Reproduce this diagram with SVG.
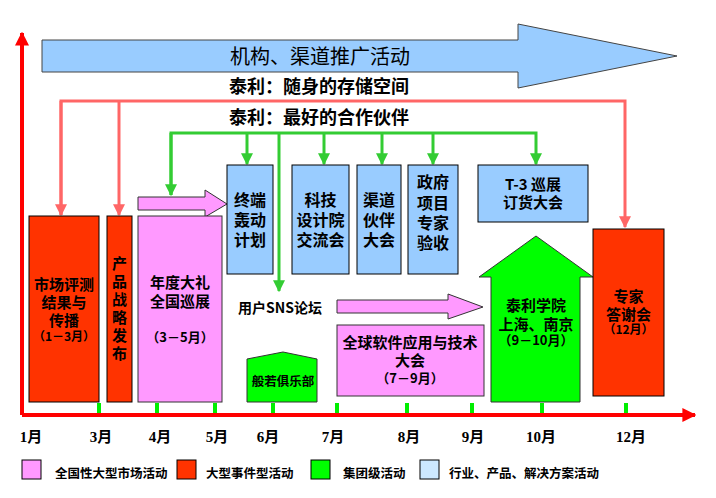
<svg xmlns="http://www.w3.org/2000/svg" width="716" height="498" viewBox="0 0 716 498">
<defs>
<style>
text{font-family:"Noto Sans CJK SC","Liberation Sans",sans-serif;fill:#000;text-anchor:middle}
.b{font-weight:bold}
.m{font-family:"Liberation Serif","Noto Sans CJK SC",serif;font-weight:bold;font-size:15px}
.lg{font-weight:bold;font-size:12.5px;text-anchor:start}
.red{fill:#FF3300;stroke:#000;stroke-width:1}
.pink{fill:#FF99FF;stroke:#333;stroke-width:1}
.grn{fill:#00FF00;stroke:#333;stroke-width:1}
.blue{fill:#99CCFF;stroke:#000;stroke-width:1}
.gl{fill:none;stroke:#33CC33;stroke-width:3}
.rl{fill:none;stroke:#FF6666;stroke-width:3}
.tick{fill:#00EE00}
.s{font-size:12px}
</style>
<marker id="ga" viewBox="0 0 10 10" refX="9" refY="5" markerWidth="4" markerHeight="4" orient="auto" markerUnits="strokeWidth"><path d="M0,0 L10,5 L0,10 z" fill="#33CC33"/></marker>
<marker id="ra" viewBox="0 0 10 10" refX="9" refY="5" markerWidth="4" markerHeight="4" orient="auto" markerUnits="strokeWidth"><path d="M0,0 L10,5 L0,10 z" fill="#FF6666"/></marker>
<marker id="axa" viewBox="0 0 10 10" refX="9" refY="5" markerWidth="3.5" markerHeight="3.5" orient="auto" markerUnits="strokeWidth"><path d="M0,0 L10,5 L0,10 z" fill="#FF0000"/></marker>
</defs>
<rect width="716" height="498" fill="#fff"/>

<g id="connectors">
<path class="rl" d="M61,215 V101 H625 V227" marker-end="url(#ra)"/>
<path class="rl" d="M119,101 V215" marker-end="url(#ra)"/>
<path class="rl" d="M61,101 V215" marker-end="url(#ra)"/>
<path class="gl" d="M171,195 V133 H536 V164" marker-end="url(#ga)"/>
<path class="gl" d="M247,133 V164" marker-end="url(#ga)"/>
<path class="gl" d="M279,133 V291" marker-end="url(#ga)"/>
<path class="gl" d="M324,133 V164" marker-end="url(#ga)"/>
<path class="gl" d="M382,133 V164" marker-end="url(#ga)"/>
<path class="gl" d="M433,133 V164" marker-end="url(#ga)"/>
<path class="gl" d="M171,133 V195" marker-end="url(#ga)"/>
</g>

<g id="axes">
<path d="M22,415 V33" stroke="#FF0000" stroke-width="4" fill="none" marker-end="url(#axa)"/>
<path d="M22,415 H695" stroke="#FF0000" stroke-width="4" fill="none" marker-end="url(#axa)"/>
<rect class="tick" x="97" y="403" width="4" height="10"/>
<rect class="tick" x="155" y="403" width="4" height="10"/>
<rect class="tick" x="213" y="403" width="4" height="10"/>
<rect class="tick" x="271" y="403" width="4" height="10"/>
<rect class="tick" x="335" y="403" width="4" height="10"/>
<rect class="tick" x="405" y="403" width="4" height="10"/>
<rect class="tick" x="470" y="403" width="4" height="10"/>
<rect class="tick" x="540" y="403" width="4" height="10"/>
<rect class="tick" x="624" y="403" width="4" height="10"/>
<text class="m" x="31" y="442">1月</text>
<text class="m" x="101" y="442">3月</text>
<text class="m" x="160" y="442">4月</text>
<text class="m" x="217" y="442">5月</text>
<text class="m" x="268" y="442">6月</text>
<text class="m" x="333" y="442">7月</text>
<text class="m" x="409" y="442">8月</text>
<text class="m" x="473" y="442">9月</text>
<text class="m" x="541" y="442">10月</text>
<text class="m" x="631" y="442">12月</text>
</g>

<g id="top-arrow">
<path d="M42,40 H518 V24 L677,56 L518,88 V72 H42 Z" fill="#99CCFF" stroke="#444" stroke-width="1"/>
<text x="320" y="64" font-size="20">机构、渠道推广活动</text>
</g>
<g id="slogan1"><text class="b" x="319" y="93" font-size="18">泰利：随身的存储空间</text></g>
<g id="slogan2"><text class="b" x="319" y="124" font-size="18">泰利：最好的合作伙伴</text></g>

<g id="market-eval">
<rect class="red" x="29" y="216" width="70" height="186"/>
<text class="b" font-size="15" x="64" y="290">市场评测<tspan x="64" dy="18">结果与</tspan><tspan x="64" dy="18">传播</tspan><tspan class="s" x="64" dy="15">（1－3月）</tspan></text>
</g>

<g id="product-strategy">
<rect class="red" x="107" y="216" width="25" height="186"/>
<text class="b" font-size="15" x="119.5" y="256" writing-mode="tb" style="letter-spacing:3px;text-anchor:start">产品战略发布</text>
</g>

<g id="tour">
<path class="pink" d="M138,197 H205 V190 L227,204 L205,217 V210 H138 Z"/>
<rect class="pink" x="138" y="216" width="84" height="186"/>
<text class="b" font-size="15" x="180" y="288">年度大礼<tspan x="180" dy="19">全国巡展</tspan><tspan font-size="13" x="180" dy="35">（3－5月）</tspan></text>
</g>

<g id="terminal">
<rect class="blue" x="227" y="165" width="46" height="109"/>
<text class="b" font-size="16" x="250" y="206">终端<tspan x="250" dy="20">轰动</tspan><tspan x="250" dy="20">计划</tspan></text>
</g>

<g id="tech-design">
<rect class="blue" x="292" y="165" width="57" height="109"/>
<text class="b" font-size="16" x="320.5" y="206">科技<tspan x="320.5" dy="20">设计院</tspan><tspan x="320.5" dy="20">交流会</tspan></text>
</g>

<g id="channel">
<rect class="blue" x="357" y="165" width="44" height="109"/>
<text class="b" font-size="16" x="379" y="206">渠道<tspan x="379" dy="20">伙伴</tspan><tspan x="379" dy="20">大会</tspan></text>
</g>

<g id="gov">
<rect class="blue" x="408" y="165" width="50" height="109"/>
<text class="b" font-size="16" x="433" y="188">政府<tspan x="433" dy="20.5">项目</tspan><tspan x="433" dy="20">专家</tspan><tspan x="433" dy="20">验收</tspan></text>
</g>

<g id="t3">
<rect class="blue" x="478" y="165" width="110" height="57"/>
<text class="b" font-size="15" x="533" y="190">T-3 巡展<tspan x="533" dy="18">订货大会</tspan></text>
</g>

<g id="sns">
<text class="b" font-size="14" x="280" y="313">用户SNS论坛</text>
<path class="pink" d="M337,300 H448 V294 L483,307 L448,319 V313 H337 Z"/>
</g>

<g id="club">
<path class="grn" d="M247,402 V359 L283,352 L317,359 V402 Z"/>
<text class="b" font-size="12.5" x="283" y="386">般若俱乐部</text>
</g>

<g id="global-conf">
<rect class="pink" x="337" y="325" width="147" height="71"/>
<text class="b" font-size="15" x="410" y="348">全球软件应用与技术<tspan x="410" dy="18">大会</tspan><tspan font-size="13" x="410" dy="17">（7－9月）</tspan></text>
</g>

<g id="academy">
<path class="grn" d="M491,402 V277 H479 L536,236 L593,277 H580 V402 Z"/>
<text class="b" font-size="15" x="536" y="311">泰利学院<tspan x="536" dy="19">上海、南京</tspan><tspan font-size="13" x="536" dy="15">（9－10月）</tspan></text>
</g>

<g id="thanks">
<rect class="red" x="593" y="229" width="71" height="167"/>
<text class="b" font-size="15" x="628.5" y="302">专家<tspan x="628.5" dy="18">答谢会</tspan><tspan class="s" x="628.5" dy="14">（12月）</tspan></text>
</g>

<g id="legend">
<rect x="22" y="460" width="19" height="19" fill="#FF99FF" stroke="#000"/>
<text class="lg" x="55" y="478">全国性大型市场活动</text>
<rect x="177" y="460" width="19" height="19" fill="#FF3300" stroke="#000"/>
<text class="lg" x="206" y="478">大型事件型活动</text>
<rect x="311" y="460" width="19" height="19" fill="#00FF00" stroke="#000"/>
<text class="lg" x="343" y="478">集团级活动</text>
<rect x="420" y="460" width="19" height="19" fill="#CCE8FF" stroke="#000"/>
<text class="lg" x="449" y="478">行业、产品、解决方案活动</text>
</g>
</svg>
